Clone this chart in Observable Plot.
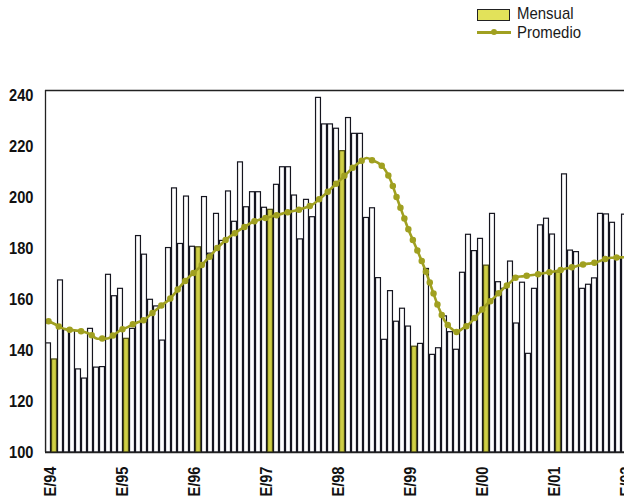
<!DOCTYPE html>
<html>
<head>
<meta charset="utf-8">
<script src="https://cdn.jsdelivr.net/npm/d3@7"></script>
<script src="https://cdn.jsdelivr.net/npm/@observablehq/plot@0.6"></script>
<style>
  body { margin: 0; background: #fff; }
  #wrap { position: relative; width: 624px; height: 500px; overflow: hidden; }
  .lg { position: absolute; font-family: 'Liberation Sans', Arial, sans-serif; font-size: 17px; color: #1a1a1a; line-height: 1; }
  .tx { transform: scaleX(0.88); transform-origin: left center; white-space: nowrap; }
</style>
</head>
<body>
<div id="wrap">
  <div id="chart"></div>
  <div class="lg" style="left:477px;top:9px;width:31px;height:10px;background:#e2e25a;border:1.5px solid #222;"></div>
  <div class="lg tx" style="left:517px;top:5px;">Mensual</div>
  <div class="lg" style="left:477px;top:31px;width:34px;height:2.5px;background:#a0a020;"></div>
  <div class="lg" style="left:491px;top:29px;width:6px;height:6px;border-radius:50%;background:#a0a020;"></div>
  <div class="lg tx" style="left:517px;top:24px;">Promedio</div>
</div>
<script>
// Monthly values, Dec 1993 .. Dec 2001 (first value = Dec 1993)
const mensual1993 = [142.8];
const mensual1994 = [136.5, 167.5, 148, 148, 132.6, 129, 148.5, 133.3, 133.5, 169.7, 161.3, 164.2];
const mensual1995 = [144.6, 148.5, 184.9, 177.6, 159.9, 157.3, 143.9, 180.2, 203.6, 181.8, 200.4, 180.7];
const mensual1996 = [180.5, 200.2, 178, 193.6, 183, 202.4, 190.5, 213.8, 196.2, 202.1, 202.1, 196];
const mensual1997 = [195.2, 205, 211.9, 211.9, 200.8, 183.6, 199.1, 192.3, 239.1, 228.7, 228.7, 227];
const mensual1998 = [218.2, 231.2, 225, 225, 192, 195.8, 168.4, 144.2, 163.3, 151.3, 156.4, 149.4];
const mensual1999 = [141.5, 142.6, 172, 138.3, 140.9, 153.4, 147.2, 140.3, 170.5, 185.4, 179, 183.8];
const mensual2000 = [173.3, 193.6, 166.8, 164.2, 174.9, 150.6, 166.6, 138.7, 164.2, 189.1, 191.7, 185.5];
const mensual2001 = [170.7, 209.1, 179.2, 178.6, 164.2, 165.8, 168.3, 193.6, 193.4, 190.1, 176, 193.3];

// Moving average ("Promedio"), same months
const promedio1993 = [151.5];
const promedio1994 = [150.4, 149.1, 148.3, 148.0, 147.7, 147.3, 146.3, 144.7, 144.7, 144.8, 146.3, 148.0];
const promedio1995 = [149.0, 150.2, 151.2, 152.1, 154.1, 156.1, 158.0, 159.7, 162.3, 165.3, 167.8, 170.1];
const promedio1996 = [172.2, 174.7, 177.2, 179.9, 182.2, 184.3, 185.9, 187.5, 189.0, 190.4, 191.2, 191.9];
const promedio1997 = [192.5, 193.1, 193.7, 194.3, 194.8, 195.4, 196.2, 197.2, 199.1, 201.1, 203.3, 205.6];
const promedio1998 = [207.8, 210.1, 212.3, 214.1, 215.5, 214.6, 213.5, 211.2, 206.9, 200.3, 193.8, 187.4];
const promedio1999 = [181.9, 176.3, 170.3, 163.5, 157.0, 151.8, 148.9, 147.3, 148.6, 150.2, 152.7, 155.4];
const promedio2000 = [158.0, 160.1, 162.4, 164.7, 166.8, 168.8, 169.1, 169.4, 169.7, 170.1, 170.5, 170.9];
const promedio2001 = [171.4, 172.0, 172.5, 173.1, 173.7, 174.1, 174.4, 175.2, 176.1, 176.4, 176.5, 176.6];

const xLabels = ["E/94", "E/95", "E/96", "E/97", "E/98", "E/99", "E/00", "E/01", "E/02"];
const yTicks = [100, 120, 140, 160, 180, 200, 220, 240];

const mensual = [].concat(mensual1993, mensual1994, mensual1995, mensual1996, mensual1997,
                          mensual1998, mensual1999, mensual2000, mensual2001);
const promedio = [].concat(promedio1993, promedio1994, promedio1995, promedio1996, promedio1997,
                           promedio1998, promedio1999, promedio2000, promedio2001);

// month index: 0 = January 1994
const bars = mensual.map((v, k) => ({i: k - 1, v, jan: (k - 1) % 12 === 0}));
const avg = promedio.map((v, k) => ({i: k - 1, v}));

const FONT = "'Liberation Sans', Arial, sans-serif";
const OLIVE = "#a0a020";
const HW = 0.41;

const chart = Plot.plot({
  width: 624,
  height: 500,
  marginTop: 90,
  marginBottom: 48,
  marginLeft: 45,
  marginRight: 0,
  style: {fontFamily: FONT, color: "#111", background: "white"},
  x: {type: "linear", domain: [-1.5, 95], axis: null},
  y: {domain: [100, 242], axis: null},
  marks: [
    Plot.rectY(bars.filter(d => !d.jan), {
      x1: d => d.i - HW, x2: d => d.i + HW, y1: d => 100, y2: "v",
      fill: "white", stroke: "#15151f", strokeWidth: 1.2, clip: true
    }),
    Plot.rectY(bars.filter(d => d.jan), {
      x1: d => d.i - HW, x2: d => d.i + HW, y1: d => 100, y2: "v",
      fill: "#cfcf45", stroke: "#4a4a10", strokeWidth: 1.2, clip: true
    }),
    Plot.line(avg, {x: "i", y: "v", stroke: OLIVE, strokeWidth: 2.6, curve: "catmull-rom", clip: true}),
    Plot.line(avg, {x: "i", y: "v", stroke: OLIVE, strokeWidth: 6.5, strokeDasharray: "0 11.5",
                    strokeLinecap: "round", curve: "catmull-rom", clip: true}),
    Plot.ruleX([-1.5], {stroke: "#222", strokeWidth: 1.3}),
    Plot.ruleY([242], {stroke: "#222", strokeWidth: 1.3}),
    Plot.ruleY([100], {stroke: "#222", strokeWidth: 1.3}),
    Plot.axisY({ticks: yTicks, label: null, tickSize: 0, tickPadding: 12, fontSize: 17, fontWeight: "bold",
                tickFormat: d => String(d)}),
    Plot.axisX({ticks: xLabels.map((_, j) => j * 12), label: null, tickFormat: t => xLabels[t / 12],
                tickRotate: -90, tickSize: 0, tickPadding: 14, fontSize: 17, fontWeight: "bold", dx: -4})
  ]
});

document.getElementById("chart").appendChild(chart);

// condense the bold tick labels (the reference uses a condensed face)
chart.querySelectorAll("text").forEach(t => {
  const L = t.getComputedTextLength();
  if (L > 0) {
    t.setAttribute("textLength", (L * 0.86).toFixed(1));
    t.setAttribute("lengthAdjust", "spacingAndGlyphs");
  }
});
</script>
</body>
</html>
